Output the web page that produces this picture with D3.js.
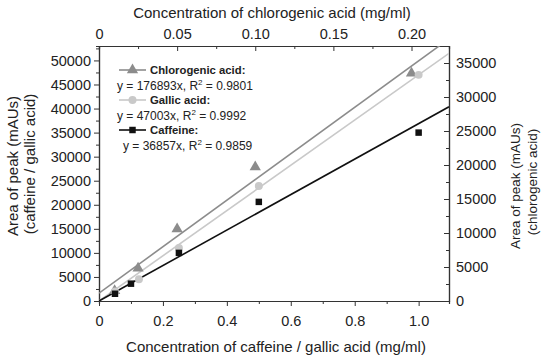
<!DOCTYPE html>
<html>
<head>
<meta charset="utf-8">
<script src="https://cdn.jsdelivr.net/npm/d3@7"></script>
<style>
  body { margin: 0; background: #fff; }
  text { font-family: "Liberation Sans", Arial, sans-serif; fill: #222; }
</style>
</head>
<body>
<div id="chart"></div>
<script>
// data
var caffeineConc = [0.05, 0.1, 0.25, 0.5, 1.0];
var caffeineArea = [1500, 3600, 10000, 20600, 35000];

var gallicConc = [0.05, 0.125, 0.25, 0.5, 1.0];
var gallicArea = [2000, 4500, 11000, 23900, 47000];

var chloroConc = [0.01, 0.025, 0.05, 0.1, 0.2];
var chloroArea = [1500, 4800, 10600, 19700, 33500];

// fitted lines as drawn (slope, intercept)
var fitSlope = {chloro: 167000, gallic: 47003, caffeine: 36857};
var fitIntercept = {chloro: 1150, gallic: 0, caffeine: 0};

var legendNames = ["Chlorogenic acid:", "Gallic acid:", "Caffeine:"];
var legendEq = ["y = 176893x, R", "y = 47003x, R", "y = 36857x, R"];
var legendR2 = [" = 0.9801", " = 0.9992", " = 0.9859"];

var leftTicks = d3.range(0, 50001, 5000);
var rightTicks = d3.range(0, 35001, 5000);
var bottomTicks = [0, 0.2, 0.4, 0.6, 0.8, 1.0];
var topTicks = [0, 0.05, 0.10, 0.15, 0.20];

var W = 550, H = 360;
var plot = {left: 99, right: 449, top: 46, bottom: 301};

var svg = d3.select("#chart").append("svg")
  .attr("width", W)
  .attr("height", H);

var x = d3.scaleLinear().domain([0, 1.095]).range([plot.left, plot.right]);
var xTop = d3.scaleLinear().domain([0, 0.224]).range([plot.left, plot.right]);
var yL = d3.scaleLinear().domain([0, 53000]).range([plot.bottom, plot.top]);
var yR = d3.scaleLinear().domain([0, 37500]).range([plot.bottom, plot.top]);

var cGray = "#8c8c8c", cLight = "#c9c9c9", cBlack = "#111";

svg.append("clipPath").attr("id", "clip")
  .append("rect")
    .attr("x", plot.left).attr("y", plot.top)
    .attr("width", plot.right - plot.left)
    .attr("height", plot.bottom - plot.top);

// axes
function styleAxis(g) {
  g.selectAll("path").attr("stroke", "#333").attr("stroke-width", 1.2);
  g.selectAll("line").attr("stroke", "#333");
  g.selectAll("text").style("font-size", "14.5px").attr("fill", "#222");
}

// minor ticks first
svg.append("g")
  .attr("transform", "translate(" + plot.left + ",0)")
  .call(d3.axisLeft(yL).tickValues(d3.range(2500, 53000, 5000)).tickSize(3).tickFormat(""))
  .call(styleAxis);
svg.append("g")
  .attr("transform", "translate(0," + plot.bottom + ")")
  .call(d3.axisBottom(x).tickValues([0.1, 0.3, 0.5, 0.7, 0.9]).tickSize(3).tickFormat(""))
  .call(styleAxis);
svg.append("g")
  .attr("transform", "translate(0," + plot.top + ")")
  .call(d3.axisBottom(xTop).tickValues([0.025, 0.075, 0.125, 0.175]).tickSize(3).tickFormat(""))
  .call(styleAxis);
svg.append("g")
  .attr("transform", "translate(" + plot.right + ",0)")
  .call(d3.axisLeft(yR).tickValues(d3.range(2500, 37500, 5000)).tickSize(3).tickFormat(""))
  .call(styleAxis);

svg.append("g")
  .attr("transform", "translate(" + plot.left + ",0)")
  .call(d3.axisLeft(yL).tickValues(leftTicks).tickSize(5).tickSizeOuter(0).tickPadding(3).tickFormat(d3.format("d")))
  .call(styleAxis);

svg.append("g")
  .attr("transform", "translate(0," + plot.bottom + ")")
  .call(d3.axisBottom(x).tickValues(bottomTicks).tickSize(5).tickSizeOuter(0).tickPadding(10)
    .tickFormat(function(d) { return d === 0 ? "0" : d3.format(".1f")(d); }))
  .call(styleAxis);

var gTop = svg.append("g")
  .attr("transform", "translate(0," + plot.top + ")")
  .call(d3.axisBottom(xTop).tickValues(topTicks).tickSize(5).tickSizeOuter(0)
    .tickFormat(function(d) { return d === 0 ? "0" : d3.format(".2f")(d); }))
  .call(styleAxis);
gTop.selectAll("text").attr("y", -7).attr("dy", "0");

var gRight = svg.append("g")
  .attr("transform", "translate(" + plot.right + ",0)")
  .call(d3.axisLeft(yR).tickValues(rightTicks).tickSize(5).tickSizeOuter(0).tickFormat(d3.format("d")))
  .call(styleAxis);
gRight.selectAll("text").attr("x", 7).attr("text-anchor", "start");

// axis titles
svg.append("text")
  .attr("x", 272).attr("y", 18)
  .attr("text-anchor", "middle").style("font-size", "15px")
  .text("Concentration of chlorogenic acid (mg/ml)");

svg.append("text")
  .attr("x", 276).attr("y", 352)
  .attr("text-anchor", "middle").style("font-size", "15px")
  .text("Concentration of caffeine / gallic acid (mg/ml)");

svg.append("text")
  .attr("transform", "translate(18,166) rotate(-90)")
  .attr("text-anchor", "middle").style("font-size", "15px")
  .text("Area of peak (mAUs)");
svg.append("text")
  .attr("transform", "translate(35,164) rotate(-90)")
  .attr("text-anchor", "middle").style("font-size", "15px")
  .text("(caffeine / gallic acid)");

svg.append("text")
  .attr("transform", "translate(520,186) rotate(-90)")
  .attr("text-anchor", "middle").style("font-size", "13.5px")
  .text("Area of peak (mAUs)");
svg.append("text")
  .attr("transform", "translate(537,182) rotate(-90)")
  .attr("text-anchor", "middle").style("font-size", "13.5px")
  .text("(chlorogenic acid)");

// fit lines
var plotArea = svg.append("g").attr("clip-path", "url(#clip)");

function fitLine(xs, ys, key, color) {
  var xmax = xs.domain()[1];
  plotArea.append("line")
    .attr("x1", xs(0)).attr("y1", ys(fitIntercept[key]))
    .attr("x2", xs(xmax)).attr("y2", ys(fitIntercept[key] + fitSlope[key] * xmax))
    .attr("stroke", color).attr("stroke-width", 1.6);
}
fitLine(xTop, yR, "chloro", cGray);
fitLine(x, yL, "gallic", cLight);
fitLine(x, yL, "caffeine", cBlack);

// markers
var tri = d3.symbol().type(d3.symbolTriangle).size(55);
var circ = d3.symbol().type(d3.symbolCircle).size(50);
var sq = d3.symbol().type(d3.symbolSquare).size(42);

svg.append("g").selectAll("path")
  .data(d3.zip(chloroConc, chloroArea))
  .join("path")
    .attr("transform", function(d) { return "translate(" + xTop(d[0]) + "," + yR(d[1]) + ")"; })
    .attr("d", tri).attr("fill", cGray);

svg.append("g").selectAll("path")
  .data(d3.zip(gallicConc, gallicArea))
  .join("path")
    .attr("transform", function(d) { return "translate(" + x(d[0]) + "," + yL(d[1]) + ")"; })
    .attr("d", circ).attr("fill", cLight);

svg.append("g").selectAll("path")
  .data(d3.zip(caffeineConc, caffeineArea))
  .join("path")
    .attr("transform", function(d) { return "translate(" + x(d[0]) + "," + yL(d[1]) + ")"; })
    .attr("d", sq).attr("fill", cBlack);

// legend
var legend = svg.append("g");
var legColors = [cGray, cLight, cBlack];
var legSyms = [tri, circ, sq];
var legRowY = [70, 100, 130];
var legEqX = [117, 117, 123];

legendNames.forEach(function(name, i) {
  var yy = legRowY[i];
  legend.append("line")
    .attr("x1", 119).attr("x2", 146).attr("y1", yy).attr("y2", yy)
    .attr("stroke", legColors[i]).attr("stroke-width", 1.6);
  legend.append("path")
    .attr("transform", "translate(132.5," + yy + ")")
    .attr("d", legSyms[i]).attr("fill", legColors[i]);
  legend.append("text")
    .attr("x", 150).attr("y", yy + 4.2)
    .style("font-size", "11.3px").style("font-weight", "bold")
    .text(name);
  var t = legend.append("text")
    .attr("x", legEqX[i]).attr("y", yy + 20)
    .style("font-size", "12px");
  t.append("tspan").text(legendEq[i]);
  t.append("tspan").attr("dy", -5).style("font-size", "8px").text("2");
  t.append("tspan").attr("dy", 5).text(legendR2[i]);
});
</script>
</body>
</html>
